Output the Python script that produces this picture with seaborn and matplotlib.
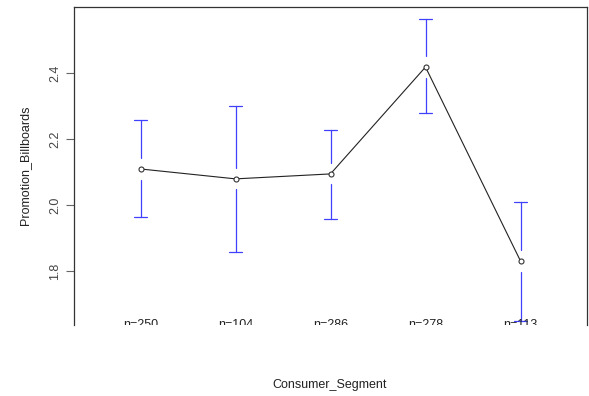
import matplotlib
matplotlib.use("Agg")
import matplotlib.pyplot as plt
import seaborn as sns
import pandas as pd

segments = [1, 2, 3, 4, 5]
means = [2.109, 2.079, 2.094, 2.418, 1.830]
ci_low = [1.964, 1.858, 1.958, 2.279, 1.648]
ci_high = [2.258, 2.300, 2.227, 2.564, 2.009]
counts = [250, 104, 286, 278, 113]
yticks = [1.8, 2.0, 2.2, 2.4]

sns.set_style("white")
plt.rcParams["font.family"] = ["Liberation Sans", "DejaVu Sans"]

fig = plt.figure(figsize=(5.89, 3.96), dpi=100)
ax = fig.add_axes([74 / 589, 1 - 325 / 396, (587 - 74) / 589, (325 - 7) / 396])

df = pd.DataFrame({"Consumer_Segment": segments, "Promotion_Billboards": means})

# confidence intervals, with a gap around each mean marker
gap = 0.032
cap = 0.068
blue = "#4040ff"
for x, m, lo, hi in zip(segments, means, ci_low, ci_high):
    ax.plot([x, x], [m + gap, hi], color=blue, lw=0.9)
    ax.plot([x, x], [lo, m - gap], color=blue, lw=0.9)
    ax.plot([x - cap, x + cap], [hi, hi], color=blue, lw=0.9)
    ax.plot([x - cap, x + cap], [lo, lo], color=blue, lw=0.9)

sns.lineplot(data=df, x="Consumer_Segment", y="Promotion_Billboards", ax=ax,
             color="#222222", lw=0.8, marker="o", markersize=3.6,
             markerfacecolor="white", markeredgecolor="#333333",
             markeredgewidth=0.8, zorder=3)

for x, n in zip(segments, counts):
    ax.text(x, 1.636, f"n={n}", ha="center", va="center", fontsize=9,
            color="#222222", clip_on=True)

ax.set_xlim(0.3, 5.7)
ax.set_ylim(1.636, 2.6)
ax.set_yticks(yticks)
ax.set_yticklabels([f"{v:.1f}" for v in yticks], rotation=90, va="center",
                   fontsize=9, color="#444444")
ax.tick_params(axis="y", direction="out", length=6, width=0.8, color="#666666",
               left=True, pad=3)
ax.set_xticks([])
for side in ["left", "top", "right"]:
    ax.spines[side].set_visible(True)
    ax.spines[side].set_color("#333333")
    ax.spines[side].set_linewidth(0.9)
ax.spines["bottom"].set_visible(False)

ax.set_xlabel("")
ax.set_ylabel("")
fig.text(330 / 589, 1 - 385 / 396, "Consumer_Segment", ha="center", va="center",
         fontsize=9, color="#222222")
fig.text(25 / 589, 1 - 165 / 396, "Promotion_Billboards", ha="center", va="center",
         rotation=90, fontsize=9, color="#222222")

fig.savefig("out.png", dpi=100)
